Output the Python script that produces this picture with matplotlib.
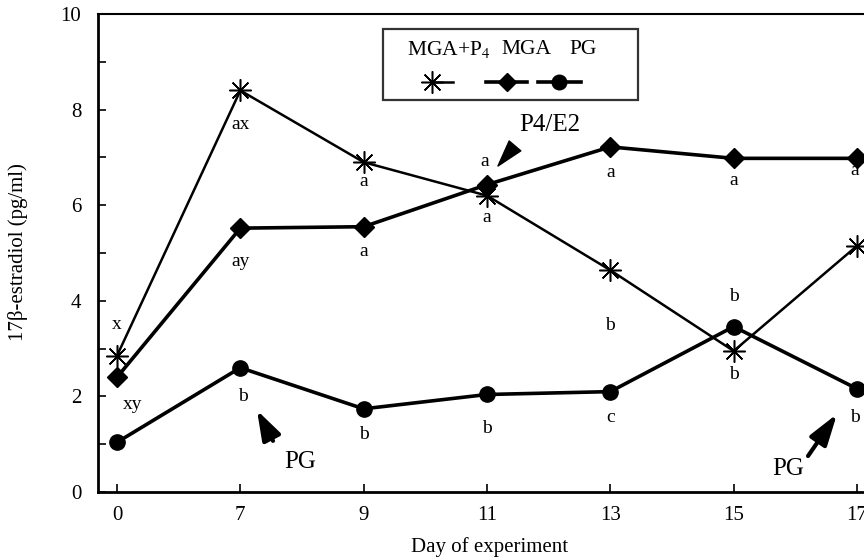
import matplotlib
matplotlib.use('Agg')
import matplotlib.pyplot as plt
from matplotlib.lines import Line2D
from matplotlib.patches import Rectangle
from matplotlib.ticker import MultipleLocator

plt.rcParams['font.family'] = ['Liberation Serif', 'DejaVu Serif']
plt.rcParams['mathtext.fontset'] = 'stix'

# ---- data ----
days = ['0', '7', '9', '11', '13', '15', '17']
mga_p4 = [2.85, 8.40, 6.90, 6.20, 4.64, 2.95, 5.15]
mga = [2.40, 5.52, 5.55, 6.43, 7.22, 6.98, 6.98]
pg = [1.04, 2.60, 1.74, 2.04, 2.10, 3.46, 2.16]

W, H = 864, 558
fig = plt.figure(figsize=(W / 100, H / 100), dpi=100)

def fx(px):
    return px / W

def fy(py):
    return 1 - py / H

# axes: left spine at px 98, bottom at 492, top at 14; extends past right edge
x0_px, y_top, y_bot = 98, 14, 492
cat0_px, cat6_px = 117, 857
unit = (cat6_px - cat0_px) / 6.0
xmin = -(cat0_px - x0_px) / unit
xmax = 6.5
right_px = cat0_px + xmax * unit
ax = fig.add_axes([fx(x0_px), fy(y_bot), (right_px - x0_px) / W, (y_bot - y_top) / H])

x = list(range(len(days)))

ax.plot(x, mga_p4, color='k', lw=1.8, marker=(8, 2, 0), ms=16, mew=1.1,
        clip_on=False, zorder=3)
ax.plot(x, mga, color='k', lw=2.6, marker='D', ms=10, mfc='k', mec='k',
        clip_on=False, zorder=4)
ax.plot(x, pg, color='k', lw=2.6, marker='o', ms=11, mfc='k', mec='k',
        clip_on=False, zorder=4)

ax.set_xlim(xmin, xmax)
ax.set_ylim(0, 10)
ax.set_xticks(x)
ax.set_xticklabels(days)
ax.yaxis.set_major_locator(MultipleLocator(2))
ax.yaxis.set_minor_locator(MultipleLocator(1))
ax.tick_params(axis='both', which='major', direction='in', length=6, width=1.2,
               labelsize=15, pad=10)
ax.tick_params(axis='y', which='minor', direction='in', length=6, width=1.2)
ax.tick_params(axis='y', which='major', pad=12)

for s in ['left', 'bottom']:
    ax.spines[s].set_linewidth(2.0)
ax.spines['top'].set_linewidth(1.5)
ax.spines['right'].set_visible(False)

# significance letters: (category index, x offset, y, text)
letters = [
    (0, 0.0, 3.51, 'x'), (0, 0.13, 1.84, 'xy'),
    (1, 0.0, 7.68, 'ax'), (1, 0.0, 4.83, 'ay'), (1, 0.02, 2.0, 'b'),
    (2, 0.0, 6.49, 'a'), (2, 0.0, 5.04, 'a'), (2, 0.0, 1.21, 'b'),
    (3, -0.02, 6.92, 'a'), (3, 0.0, 5.75, 'a'), (3, 0.0, 1.32, 'b'),
    (4, 0.0, 6.69, 'a'), (4, 0.0, 3.49, 'b'), (4, 0.0, 1.55, 'c'),
    (5, 0.0, 6.51, 'a'), (5, 0.0, 4.08, 'b'), (5, 0.0, 2.45, 'b'),
    (6, -0.02, 6.72, 'a'), (6, -0.02, 1.55, 'b'),
]
for i, dx, yv, t in letters:
    ax.text(i + dx, yv, t, ha='center', va='center', fontsize=14)

# arrows with labels
ax.annotate('', xy=(1.135, 1.71), xytext=(1.265, 1.07),
            arrowprops=dict(arrowstyle='-|>,head_length=0.9,head_width=0.3',
                            lw=3, color='k', mutation_scale=20,
                            shrinkA=0, shrinkB=0))
ax.text(1.484, 0.63, 'PG', ha='center', va='center', fontsize=18)
ax.annotate('', xy=(5.838, 1.632), xytext=(5.603, 0.753),
            arrowprops=dict(arrowstyle='-|>,head_length=0.95,head_width=0.3',
                            lw=3, color='k', mutation_scale=20,
                            shrinkA=0, shrinkB=0))
ax.text(5.44, 0.48, 'PG', ha='center', va='center', fontsize=18)
ax.annotate('', xy=(3.089, 6.82), xytext=(3.227, 7.24),
            arrowprops=dict(arrowstyle='wedge,tail_width=0.55,shrink_factor=0.5',
                            color='k', mutation_scale=20,
                            shrinkA=0, shrinkB=0))
ax.text(3.51, 7.68, 'P4/E2', ha='center', va='center', fontsize=18)

# legend (manual: labels above samples)
fig.add_artist(Rectangle((fx(383), fy(100)), (638 - 383) / W, (100 - 29) / H,
                         transform=fig.transFigure, fill=False,
                         edgecolor='#333333', lw=1.6))
fig.text(fx(407), fy(50), 'MGA+P$_4$', ha='left', va='center', fontsize=15.5)
fig.text(fx(526), fy(50), 'MGA', ha='center', va='center', fontsize=15.5)
fig.text(fx(583), fy(50), 'PG', ha='center', va='center', fontsize=15.5)
ly = fy(82)
fig.add_artist(Line2D([fx(432), fx(453)], [ly, ly], color='k', lw=1.8))
fig.add_artist(Line2D([fx(432)], [ly], marker=(8, 2, 0), ms=16, mew=1.1, color='k'))
fig.add_artist(Line2D([fx(486), fx(527)], [ly, ly], color='k', lw=2.6))
fig.add_artist(Line2D([fx(507)], [ly], marker='D', ms=9.5, color='k'))
fig.add_artist(Line2D([fx(538), fx(581)], [ly, ly], color='k', lw=2.6))
fig.add_artist(Line2D([fx(559)], [ly], marker='o', ms=10.5, color='k'))

# axis labels
fig.text(fx(490), fy(547), 'Day of experiment', ha='center', va='center', fontsize=15)
fig.text(fx(18), fy(252), '17β-estradiol (pg/ml)', ha='center', va='center',
         rotation=90, fontsize=15)

fig.savefig('out.png', dpi=100)
